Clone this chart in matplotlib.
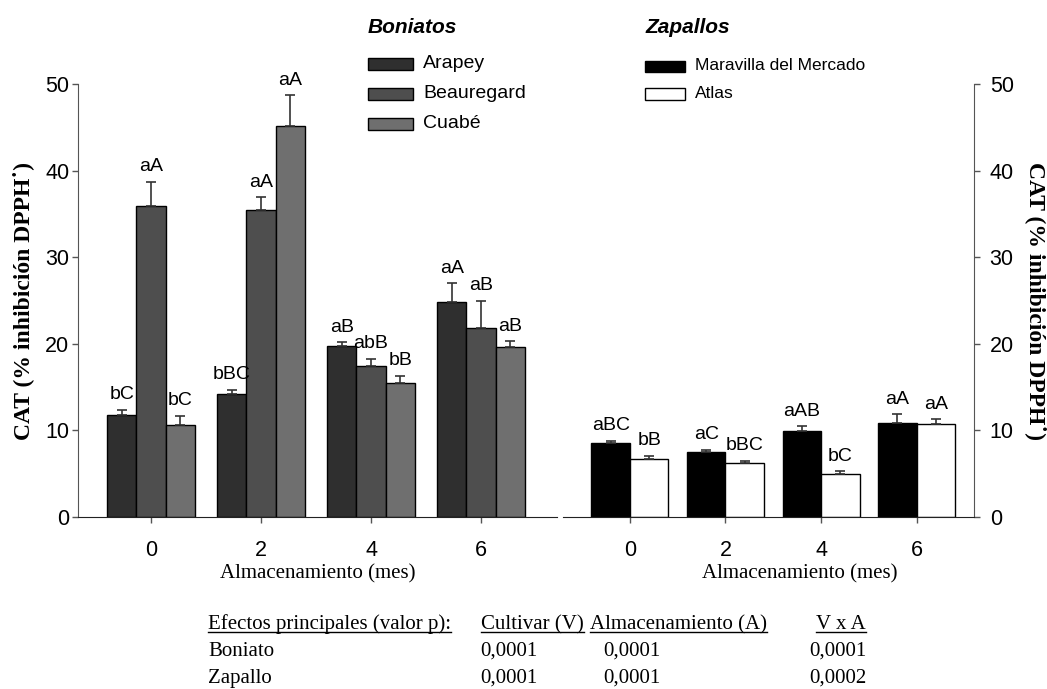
import numpy as np
import matplotlib
matplotlib.use('Agg')
import matplotlib.pyplot as plt
from matplotlib.patches import Rectangle
from matplotlib.lines import Line2D

plt.rcParams['font.family'] = ['Liberation Sans', 'DejaVu Sans']

# storage time (months)
meses = [0, 2, 4, 6]

# sweet potato cultivars
arapey = [11.8, 14.2, 19.7, 24.8]
arapey_err = [0.6, 0.5, 0.5, 2.2]
beauregard = [35.9, 35.5, 17.4, 21.8]
beauregard_err = [2.8, 1.4, 0.9, 3.2]
cuabe = [10.6, 45.1, 15.5, 19.6]
cuabe_err = [1.1, 3.6, 0.8, 0.7]

# squash cultivars
maravilla = [8.5, 7.5, 9.9, 10.9]
maravilla_err = [0.3, 0.25, 0.6, 1.0]
atlas = [6.7, 6.2, 5.0, 10.7]
atlas_err = [0.4, 0.3, 0.3, 0.6]

# significance letters
arapey_let = ['bC', 'bBC', 'aB', 'aA']
beauregard_let = ['aA', 'aA', 'abB', 'aB']
cuabe_let = ['bC', 'aA', 'bB', 'aB']
maravilla_let = ['aBC', 'aC', 'aAB', 'aA']
atlas_let = ['bB', 'bBC', 'bC', 'aA']

# ANOVA p-values
tabla_cab = ['Efectos principales (valor p):', 'Cultivar (V)', 'Almacenamiento (A)', 'V x A']
tabla_filas = ['Boniato', 'Zapallo']
tabla_p = [['0,0001', '0,0001', '0,0001'],
           ['0,0001', '0,0001', '0,0002']]

W, H = 1047, 689
fig = plt.figure(figsize=(W / 100, H / 100), dpi=100)


def fx(px):
    return px / W


def fy(py):
    return 1 - py / H


serif = ['Liberation Serif', 'DejaVu Serif']
axcol = '#555555'
ylabel = 'CAT (% inhibición DPPH˙)'

ax1 = fig.add_axes([fx(78), fy(517), fx(557) - fx(78), fy(84) - fy(517)])
ax2 = fig.add_axes([fx(563), fy(517), fx(974) - fx(563), fy(84) - fy(517)])

x = np.array(meses, dtype=float)


def barras(ax, series, errs, letras, colores, width):
    n = len(series)
    offs = (np.arange(n) - (n - 1) / 2) * width
    for vals, err, lets, col, off in zip(series, errs, letras, colores, offs):
        ax.bar(x + off, vals, width, color=col, edgecolor='black', linewidth=1.0, zorder=2)
        ax.errorbar(x + off, vals, yerr=[np.zeros(len(vals)), err], fmt='none',
                    ecolor='#333333', elinewidth=1.2, capsize=3.3, capthick=1.2, zorder=3)
        for xi, v, e, t in zip(x + off, vals, err, lets):
            ax.text(xi, v + e + 1.2, t, ha='center', va='baseline', fontsize=14)


col_bon = ['#2f2f2f', '#4e4e4e', '#6f6f6f']
col_zap = ['#000000', '#ffffff']

barras(ax1, [arapey, beauregard, cuabe], [arapey_err, beauregard_err, cuabe_err],
       [arapey_let, beauregard_let, cuabe_let], col_bon, 0.533)
barras(ax2, [maravilla, atlas], [maravilla_err, atlas_err],
       [maravilla_let, atlas_let], col_zap, 0.805)

ax1.set_xlim(-1.327, 7.38)
ax2.set_xlim(-1.40, 7.20)
for ax in (ax1, ax2):
    ax.set_ylim(0, 50)
    ax.set_xticks(meses)
    ax.set_yticks([0, 10, 20, 30, 40, 50])
    ax.spines['top'].set_visible(False)
    ax.spines['bottom'].set_color('#222222')
    ax.tick_params(axis='both', direction='out', length=4.3, width=1.0, color=axcol,
                   labelsize=15.5)
    ax.tick_params(axis='x', pad=12)
    ax.set_xlabel('Almacenamiento (mes)', family=serif, fontsize=15)

ax1.spines['right'].set_visible(False)
ax1.spines['left'].set_color(axcol)
ax1.tick_params(axis='y', pad=2)
ax1.set_ylabel(ylabel, family=serif, fontsize=17, fontweight='bold', labelpad=8)

ax2.spines['left'].set_visible(False)
ax2.spines['right'].set_color(axcol)
ax2.yaxis.tick_right()
ax2.yaxis.set_label_position('right')
ax2.tick_params(axis='y', pad=7)
ax2.set_ylabel(ylabel, family=serif, fontsize=17, fontweight='bold',
               rotation=270, labelpad=24)

ax1.xaxis.set_label_coords(0.5, (517 - 564) / 433)
ax2.xaxis.set_label_coords((800 - 563) / 411, (517 - 564) / 433)

# legends
fig.text(fx(368), fy(33), 'Boniatos', fontsize=15, fontweight='bold', style='italic',
         va='baseline')
fig.text(fx(645), fy(33), 'Zapallos', fontsize=15, fontweight='bold', style='italic',
         va='baseline')


def leyenda(x0, x1, xt, centros, alto, nombres, colores, size):
    for yc, nom, col in zip(centros, nombres, colores):
        fig.patches.append(Rectangle((fx(x0), fy(yc + alto / 2)), fx(x1) - fx(x0),
                                     fy(yc - alto / 2) - fy(yc + alto / 2),
                                     transform=fig.transFigure, facecolor=col,
                                     edgecolor='black', linewidth=1.0))
        fig.text(fx(xt), fy(yc), nom, fontsize=size, va='center')


leyenda(368, 413, 423, [64, 94, 124], 12, ['Arapey', 'Beauregard', 'Cuabé'], col_bon, 14)
leyenda(645, 685, 695, [66, 94], 11, ['Maravilla del Mercado', 'Atlas'], col_zap, 12.5)

# p-value table
cab_x = [208, 481, 590, 866]
cab_ha = ['left', 'left', 'left', 'right']
cab_txt = []
for t, xx, ha in zip(tabla_cab, cab_x, cab_ha):
    cab_txt.append(fig.text(fx(xx), fy(629), t, family=serif, fontsize=15,
                            ha=ha, va='baseline'))

val_x = [509, 632, 866]
val_ha = ['center', 'center', 'right']
for fila, vals, yy in zip(tabla_filas, tabla_p, [656, 683]):
    fig.text(fx(208), fy(yy), fila, family=serif, fontsize=15, va='baseline')
    for v, xx, ha in zip(vals, val_x, val_ha):
        fig.text(fx(xx), fy(yy), v, family=serif, fontsize=15, ha=ha, va='baseline')

fig.canvas.draw()
r = fig.canvas.get_renderer()
for t in cab_txt:
    bb = t.get_window_extent(r)
    yl = fy(632)
    fig.lines.append(Line2D([bb.x0 / W, bb.x1 / W], [yl, yl], transform=fig.transFigure,
                            color='black', linewidth=1.0))

fig.savefig('out.png', dpi=100)
